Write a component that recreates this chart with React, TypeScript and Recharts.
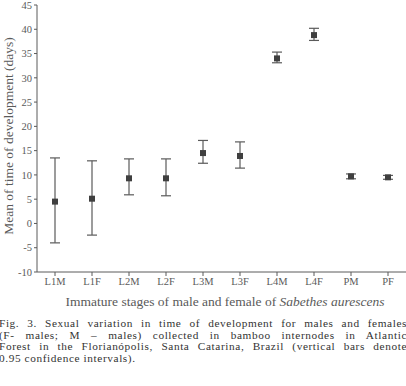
import { ComposedChart, Scatter, ErrorBar, XAxis, YAxis } from "recharts"

const stages = ["L1M", "L1F", "L2M", "L2F", "L3M", "L3F", "L4M", "L4F", "PM", "PF"]
const means = [4.5, 5.1, 9.3, 9.3, 14.5, 13.9, 34.0, 38.8, 9.7, 9.5]
const lower = [-4.0, -2.4, 5.9, 5.7, 12.4, 11.4, 33.1, 37.7, 9.2, 9.1]
const upper = [13.5, 12.9, 13.3, 13.3, 17.1, 16.8, 35.3, 40.2, 10.2, 9.9]
const yTicks = [-10, -5, 0, 5, 10, 15, 20, 25, 30, 35, 40, 45]
const captionLines = [
  "Fig. 3. Sexual variation in time of development for males and females",
  "(F- males; M – males) collected in bamboo internodes in Atlantic",
  "Forest in the Florianópolis, Santa Catarina, Brazil (vertical bars denote",
  "0.95 confidence intervals).",
]

const data = stages.map((stage, i) => ({
  stage,
  mean: means[i],
  ci: [means[i] - lower[i], upper[i] - means[i]],
}))

const serif = "Liberation Serif, Times New Roman, Times, serif"
const grey = "#5a5a5a"

const Square = (props: any) => {
  const { cx, cy } = props
  return <rect x={cx - 3} y={cy - 3} width={6} height={6} fill="#3f3f3f" />
}

export default function App() {
  return (
    <div style={{ position: "absolute", left: 0, top: 0, width: 406, height: 386, background: "#fff", overflow: "hidden" }}>
      <ComposedChart width={406} height={320} data={data} margin={{ top: 5, right: 0, left: 0, bottom: 0 }}>
        <XAxis
          dataKey="stage"
          height={48}
          padding={{ left: 18, right: 18 }}
          stroke={grey}
          tickSize={4}
          tick={{ fill: grey, fontSize: 10.5, fontFamily: serif }}
          label={{
            content: () => (
              <text x={225} y={306} textAnchor="middle" fill={grey} fontSize={13.5} fontFamily={serif}>
                Immature stages of male and female of <tspan fontStyle="italic">Sabethes aurescens</tspan>
              </text>
            ),
          }}
        />
        <YAxis
          type="number"
          domain={[-10, 45]}
          ticks={yTicks}
          width={37}
          interval={0}
          stroke={grey}
          tickSize={3}
          tick={{ fill: grey, fontSize: 10.5, fontFamily: serif }}
          label={{
            content: () => (
              <text
                x={8}
                y={136}
                transform="rotate(-90 8 136)"
                textAnchor="middle"
                dominantBaseline="central"
                fill={grey}
                fontSize={13.5}
                fontFamily={serif}
              >
                Mean of time of development (days)
              </text>
            ),
          }}
        />
        <Scatter dataKey="mean" shape={<Square />} isAnimationActive={false}>
          <ErrorBar dataKey="ci" direction="y" width={5} stroke={grey} strokeWidth={1.2} />
        </Scatter>
      </ComposedChart>
      <div
        style={{
          position: "absolute",
          left: -1,
          top: 318,
          width: 408,
          fontFamily: serif,
          fontSize: 11.3,
          letterSpacing: "0.6px",
          lineHeight: "11.5px",
          color: "#333",
        }}
      >
        {captionLines.map((line, i) => (
          <div
            key={i}
            style={{
              whiteSpace: "nowrap",
              textAlign: i < captionLines.length - 1 ? "justify" : "left",
              textAlignLast: i < captionLines.length - 1 ? "justify" : "left",
            }}
          >
            {line}
          </div>
        ))}
      </div>
    </div>
  )
}
